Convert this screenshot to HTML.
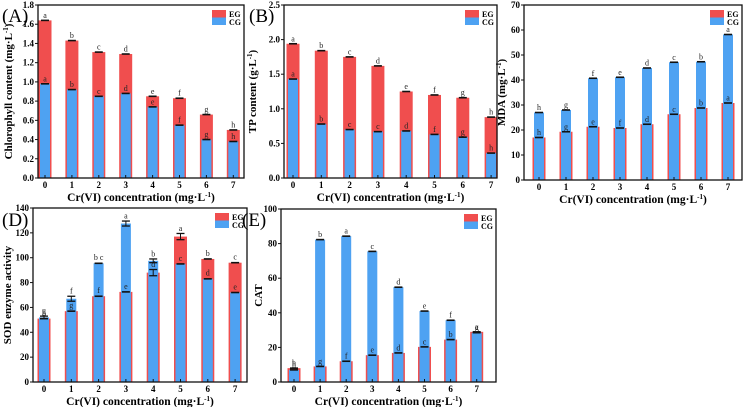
<!DOCTYPE html>
<html><head><meta charset="utf-8"><style>
html,body{margin:0;padding:0;background:#fff;}
svg, svg text, svg tspan{font-family:"Liberation Serif","Times New Roman","DejaVu Serif",serif !important;}
</style></head><body>
<svg id="chart" width="743" height="407" viewBox="0 0 743 407" xmlns="http://www.w3.org/2000/svg"></svg>
<script>
const categories = ["0","1","2","3","4","5","6","7"];
// Panel A: Chlorophyll
const chlEG = [1.64,1.43,1.31,1.29,0.85,0.83,0.66,0.50];
const chlCG = [0.98,0.92,0.85,0.88,0.74,0.55,0.40,0.38];
const chlEGLetters = ["a","b","c","d","e","f","g","h"];
const chlCGLetters = ["a","b","c","d","e","f","g","h"];
const chlTicks = [0,0.2,0.4,0.6,0.8,1.0,1.2,1.4,1.6,1.8];
// Panel B: TP
const tpEG = [1.94,1.84,1.75,1.62,1.25,1.20,1.16,0.88];
const tpCG = [1.43,0.78,0.70,0.67,0.68,0.63,0.59,0.36];
const tpEGLetters = ["a","b","c","d","e","f","g","h"];
const tpCGLetters = ["a","b","c","c","d","f","g","h"];
const tpTicks = [0,0.5,1.0,1.5,2.0,2.5];
// Panel C: MDA
const mdaEG = [17,19.3,21.3,20.8,22.3,26.3,28.8,30.8];
const mdaCG = [27,28,40.7,41.1,44.8,47.1,47.3,58.2];
const mdaEGLetters = ["h","g","e","f","d","c","b","a"];
const mdaCGLetters = ["h","g","f","e","d","c","b","a"];
const mdaTicks = [0,10,20,30,40,50,60,70];
// Panel D: SOD
const sodEG = [51,57,69,72.5,88,117,99,96];
const sodCG = [52,67,95.5,127.5,97.5,95,83,72];
const sodEGErr = [0.5,0.5,0.5,0.5,2.5,2.5,0.5,0.5];
const sodCGErr = [1,2,0.5,2,1.5,0.5,0.5,0.5];
const sodEGLetters = ["h","g","f","e","d","a","b","c"];
const sodCGLetters = ["g","f","b c","a","b","c","d","e"];
const sodTicks = [0,20,40,60,80,100,120,140];
// Panel E: CAT
const catEG = [8,9,12,15.5,16.8,20.3,24.5,29];
const catCG = [7,82.3,84.3,75.5,54.8,41,35.7,28.5];
const catEGLetters = ["h","g","f","e","d","c","b","a"];
const catCGLetters = ["h","b","a","c","d","e","f","g"];
const catTicks = [0,20,40,60,80,100];

const RED="#f04e4e", BLUE="#4ea2f2";
const FONT="'Liberation Serif', 'Times New Roman', 'DejaVu Serif', serif";
const svg=document.getElementById('chart');
const NS="http://www.w3.org/2000/svg";
function mk(tag,attrs,parent){const e=document.createElementNS(NS,tag);for(const k in attrs)e.setAttribute(k,attrs[k]);(parent||svg).appendChild(e);return e;}
function txt(s,attrs,parent){attrs['font-family']=FONT;const e=mk('text',attrs,parent);e.textContent=s;return e;}

function panel(p){
  const g=mk('g',{});
  
  
  const ymax=p.ticks[p.ticks.length-1];
  const y=v=>p.bottom-(v/ymax)*(p.bottom-p.top);
  const x=i=>p.x0+i*p.step;
  categories.forEach((c,i)=>{
    const cx=x(i);
    const r=mk('rect',{x:cx-6.5,y:y(p.eg[i]),width:13,height:p.bottom-y(p.eg[i]),fill:RED},g);
    
    
    const b=mk('rect',{x:cx-5,y:y(p.cg[i]),width:10,height:p.bottom-y(p.cg[i]),fill:BLUE},g);
    
    
    [[p.eg[i],p.egErr?p.egErr[i]:0,p.egL[i]],[p.cg[i],p.cgErr?p.cgErr[i]:0,p.cgL[i]]].forEach(([v,e,l])=>{
      const ee=Math.max(e,0);
      if(ee>0.6){
        mk('line',{x1:cx,x2:cx,y1:y(v+ee),y2:y(v-ee),stroke:'#111','stroke-width':1},g);
        mk('line',{x1:cx-4,x2:cx+4,y1:y(v+ee),y2:y(v+ee),stroke:'#111','stroke-width':1.3},g);
        mk('line',{x1:cx-4,x2:cx+4,y1:y(v-ee),y2:y(v-ee),stroke:'#111','stroke-width':1.3},g);
      } else {
        mk('line',{x1:cx-4,x2:cx+4,y1:y(v),y2:y(v),stroke:'#111','stroke-width':1.6},g);
      }
      const t=txt(l,{x:cx,y:y(v+ee)-2.5,'font-size':8,'text-anchor':'middle',fill:'#222'},g);
      
      
    });
    mk('line',{x1:cx,x2:cx,y1:p.bottom,y2:p.bottom-3,stroke:'#111','stroke-width':1},g);
    const tl=txt(c,{x:cx,y:p.bottom+10,'font-size':9,'font-weight':'bold','text-anchor':'middle'},g);
    
    
  });
  const fr=mk('rect',{x:p.left,y:p.top,width:p.right-p.left,height:p.bottom-p.top,fill:'none',stroke:'#111','stroke-width':1.3},g);
  
  
  p.ticks.forEach(t=>{
    mk('line',{x1:p.left-3,x2:p.left,y1:y(t),y2:y(t),stroke:'#111','stroke-width':1},g);
    const s=p.dec?t.toFixed(p.dec):String(t);
    const tl=txt(s,{x:p.left-4,y:y(t)+3,'font-size':9,'font-weight':'bold','text-anchor':'end'},g);
    
    
  });
  const lg=mk('g',{},g);
  
  
  const lx=p.right-32;
  mk('rect',{x:lx,y:p.top+5,width:14,height:7.5,fill:RED},lg);
  mk('rect',{x:lx,y:p.top+12.5,width:14,height:7.5,fill:BLUE},lg);
  txt('EG',{x:lx+17,y:p.top+12,'font-size':8,'font-weight':'bold'},lg);
  txt('CG',{x:lx+17,y:p.top+20,'font-size':8,'font-weight':'bold'},lg);
  const xt=txt('',{x:(p.left+p.right)/2,y:p.bottom+23,'font-size':11.5,'font-weight':'bold','text-anchor':'middle'},g);
  xt.innerHTML='Cr(VI) concentration (mg·L<tspan dy="-4" font-size="7">-1</tspan><tspan dy="4">)</tspan>';
  
  
  const cy=(p.top+p.bottom)/2;
  const yt=txt('',{x:p.ytx,y:cy,'font-size':11,'font-weight':'bold','text-anchor':'middle',transform:`rotate(-90 ${p.ytx} ${cy})`},g);
  yt.innerHTML=p.ytitle;
  
  
  if(p.label){
    const pl=txt(p.label,{x:p.lx,y:p.ly,'font-size':19},g);
    
    
  }
}
const unit='(mg·L<tspan dy="-4" font-size="7">-1</tspan><tspan dy="4">)</tspan>';
panel({name:'panel-a-chlorophyll',left:38,right:244,top:5,bottom:178,x0:45,step:26.9,ticks:chlTicks,dec:1,eg:chlEG,cg:chlCG,egL:chlEGLetters,cgL:chlCGLetters,ytx:12,ytitle:'Chlorophyll content '+unit,label:'(A)',lx:2,ly:22});
panel({name:'panel-b-tp',left:284,right:497,top:5,bottom:178,x0:293,step:28.3,ticks:tpTicks,dec:1,eg:tpEG,cg:tpCG,egL:tpEGLetters,cgL:tpCGLetters,ytx:256,ytitle:'TP content (g·L<tspan dy="-4" font-size="7">-1</tspan><tspan dy="4">)</tspan>',label:'(B)',lx:249,ly:22});
panel({name:'panel-c-mda',left:524,right:742,top:5,bottom:180,x0:539,step:27,ticks:mdaTicks,eg:mdaEG,cg:mdaCG,egL:mdaEGLetters,cgL:mdaCGLetters,ytx:505,ytitle:'MDA '+unit});
panel({name:'panel-d-sod',left:33,right:247,top:208,bottom:382,x0:44,step:27.3,ticks:sodTicks,eg:sodEG,cg:sodCG,egErr:sodEGErr,cgErr:sodCGErr,egL:sodEGLetters,cgL:sodCGLetters,ytx:11,ytitle:'SOD enzyme activity',label:'(D)',lx:2,ly:226});
panel({name:'panel-e-cat',left:281,right:496,top:209,bottom:382,x0:294,step:26.1,ticks:catTicks,eg:catEG,cg:catCG,egL:catEGLetters,cgL:catCGLetters,ytx:262,ytitle:'CAT',label:'(E)',lx:242,ly:226});
</script>
</body></html>
